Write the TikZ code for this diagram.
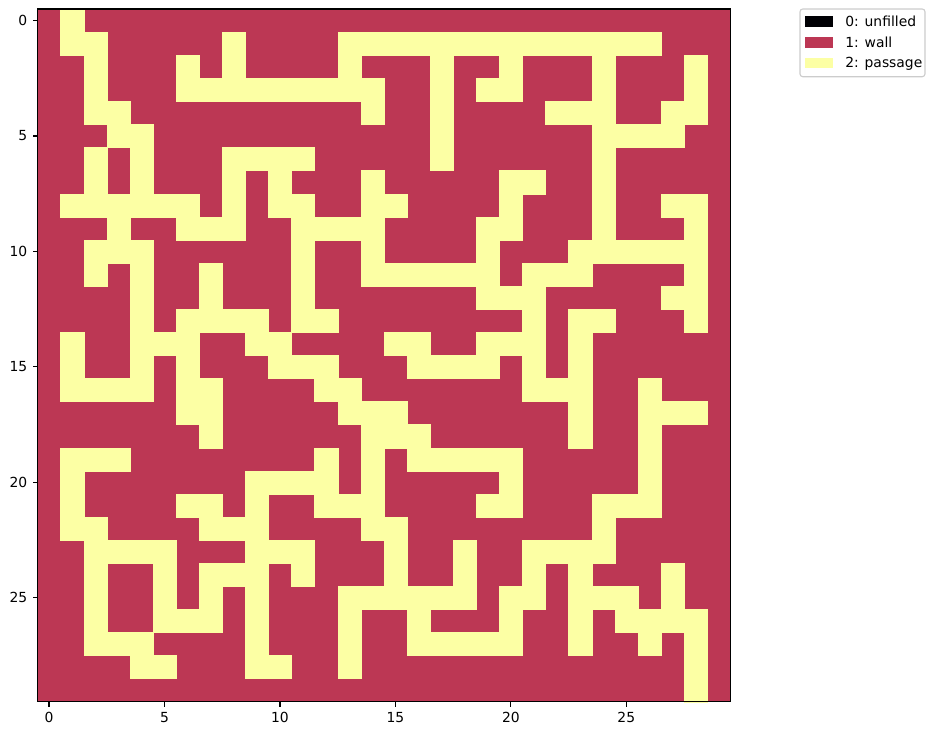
\documentclass[tikz,border=0pt]{standalone}
\usepackage{fontspec}
\setmainfont{DejaVu Sans}
\definecolor{wall}{HTML}{BC3754}
\definecolor{passage}{HTML}{FCFFA4}
\definecolor{unfilled}{HTML}{000004}
\definecolor{legframe}{HTML}{CCCCCC}
\begin{document}
\begin{tikzpicture}[x=0.72pt,y=-0.72pt,
  cellpass/.style={fill=passage, draw=passage, line width=0.2pt},
  tickline/.style={line width=0.8pt, black},
  ticklabel/.style={inner sep=0pt, font=\fontsize{10}{12}\selectfont},
  legtext/.style={anchor=base west, inner sep=0pt, font=\fontsize{10}{12}\selectfont}]
\useasboundingbox (0,0) rectangle (935,736);
\begin{scope}[shift={(27pt,-6.48pt)}, x=16.6248pt, y=-16.6248pt]
  \fill[wall] (0,0) rectangle (30,30);
  \foreach \r/\a/\b in {
    0/1/1,
    1/1/2, 1/8/8, 1/13/26,
    2/2/2, 2/6/6, 2/8/8, 2/13/13, 2/17/17, 2/20/20, 2/24/24, 2/28/28,
    3/2/2, 3/6/14, 3/17/17, 3/19/20, 3/24/24, 3/28/28,
    4/2/3, 4/14/14, 4/17/17, 4/22/24, 4/27/28,
    5/3/4, 5/17/17, 5/24/27,
    6/2/2, 6/4/4, 6/8/11, 6/17/17, 6/24/24,
    7/2/2, 7/4/4, 7/8/8, 7/10/10, 7/14/14, 7/20/21, 7/24/24,
    8/1/6, 8/8/8, 8/10/11, 8/14/15, 8/20/20, 8/24/24, 8/27/28,
    9/3/3, 9/6/8, 9/11/14, 9/19/20, 9/24/24, 9/28/28,
    10/2/4, 10/11/11, 10/14/14, 10/19/19, 10/23/28,
    11/2/2, 11/4/4, 11/7/7, 11/11/11, 11/14/19, 11/21/23, 11/28/28,
    12/4/4, 12/7/7, 12/11/11, 12/19/21, 12/27/28,
    13/4/4, 13/6/9, 13/11/12, 13/21/21, 13/23/24, 13/28/28,
    14/1/1, 14/4/6, 14/9/10, 14/15/16, 14/19/21, 14/23/23,
    15/1/1, 15/4/4, 15/6/6, 15/10/12, 15/16/19, 15/21/21, 15/23/23,
    16/1/4, 16/6/7, 16/12/13, 16/21/23, 16/26/26,
    17/6/7, 17/13/15, 17/23/23, 17/26/28,
    18/7/7, 18/14/16, 18/23/23, 18/26/26,
    19/1/3, 19/12/12, 19/14/14, 19/16/20, 19/26/26,
    20/1/1, 20/9/12, 20/14/14, 20/20/20, 20/26/26,
    21/1/1, 21/6/7, 21/9/9, 21/12/14, 21/19/20, 21/24/26,
    22/1/2, 22/7/9, 22/14/15, 22/24/24,
    23/2/5, 23/9/11, 23/15/15, 23/18/18, 23/21/24,
    24/2/2, 24/5/5, 24/7/9, 24/11/11, 24/15/15, 24/18/18, 24/21/21, 24/23/23, 24/27/27,
    25/2/2, 25/5/5, 25/7/7, 25/9/9, 25/13/18, 25/20/21, 25/23/25, 25/27/27,
    26/2/2, 26/5/7, 26/9/9, 26/13/13, 26/16/16, 26/20/20, 26/23/23, 26/25/28,
    27/2/4, 27/9/9, 27/13/13, 27/16/20, 27/23/23, 27/26/26, 27/28/28,
    28/4/5, 28/9/10, 28/13/13, 28/28/28,
    29/28/28} {
    \filldraw[cellpass] (\a,\r) rectangle ({\b+1},{\r+1});
  }
  \draw[black, line width=0.8pt] (0,0) rectangle (30,30);
  \foreach \v in {0,5,...,25} {
    \draw[tickline] ({\v+0.5},30) -- ++(0,-3.5pt)
      node[ticklabel, anchor=north, yshift=-3.5pt] (xl\v) {\v};
    \draw[tickline] (0,{\v+0.5}) -- ++(-3.5pt,0)
      node[ticklabel, anchor=east, xshift=-3.5pt] (yl\v) {\v};
  }
\end{scope}
% legend
\draw[legframe, fill=white, rounded corners=2pt, line width=0.8pt] (800,9) rectangle (925,76.7);
\fill[unfilled] (805.3,16.0) rectangle (833.1,26.7);
\fill[wall] (805.3,37.0) rectangle (833.1,47.7);
\fill[passage] (805.3,57.7) rectangle (833.1,68.3);
\node[legtext] (leg0) at (845,26.4) {0: unfilled};
\node[legtext] (leg1) at (845,47.4) {1: wall};
\node[legtext] (leg2) at (845,68.0) {2: passage};
\end{tikzpicture}
\end{document}
